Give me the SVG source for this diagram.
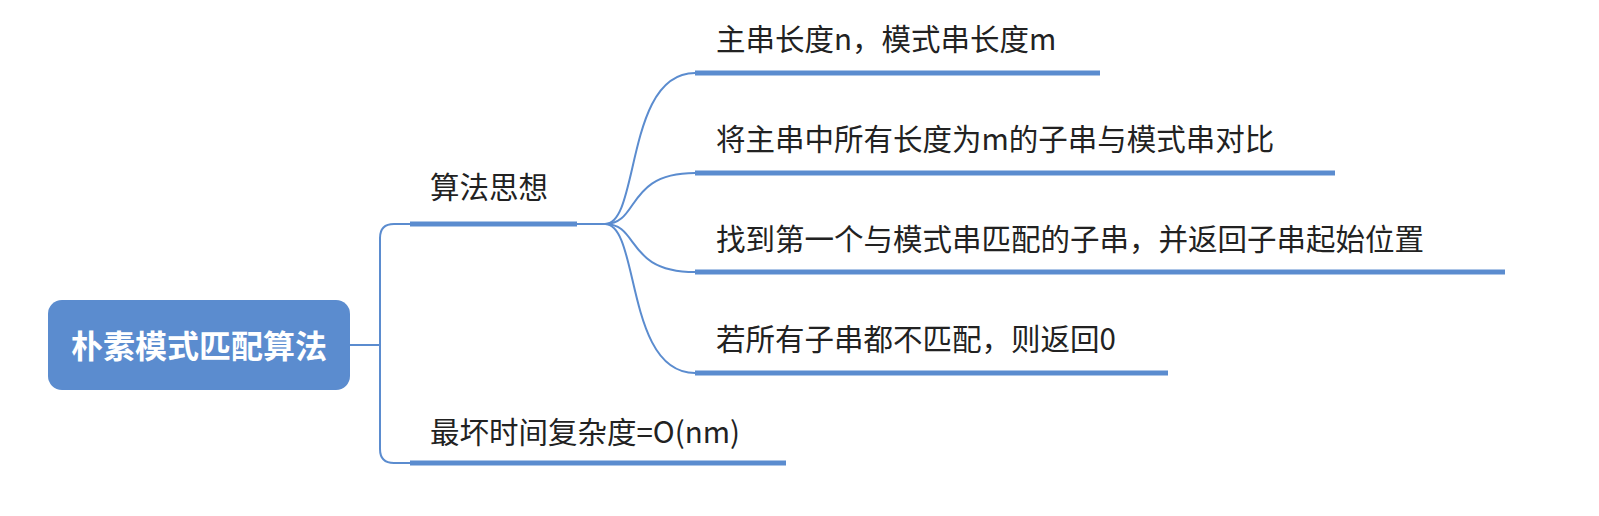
<svg xmlns="http://www.w3.org/2000/svg" width="1599" height="516" viewBox="0 0 1599 516">
<style>
.t{font-family:"Noto Sans CJK SC","Liberation Sans",sans-serif;font-size:29.5px;fill:#222}
.u{stroke:#5b8ccf;stroke-width:5;fill:none}
.c{stroke:#5b8ccf;stroke-width:2;fill:none}
</style>
<rect width="1599" height="516" fill="#fff"/>
<g id="connectors">
<path class="c" d="M350,345 H380 M380,345 V238 Q380,224 394,224 H410 M380,345 V449 Q380,463 394,463 H410"/>
<path class="c" d="M577,224 H605"/>
<path class="c" d="M605,224 C640,224 625,73 695,73"/>
<path class="c" d="M605,224 C640,224 625,173 695,173"/>
<path class="c" d="M605,224 C640,224 625,272 695,272"/>
<path class="c" d="M605,224 C640,224 625,373 695,373"/>
</g>
<g id="root">
<rect x="48" y="300" width="302" height="90" rx="14" fill="#5b8ccf"/>
<text x="199" y="358" text-anchor="middle" font-family="Noto Sans CJK SC,sans-serif" font-size="32" font-weight="bold" fill="#fff">朴素模式匹配算法</text>
</g>
<g id="n1"><path class="u" d="M410,224 H577"/><text class="t" x="430" y="198">算法思想</text></g>
<g id="n2"><path class="u" d="M410,463 H786"/><text class="t" x="430" y="443">最坏时间复杂度=O(nm)</text></g>
<g id="n3"><path class="u" d="M695,73 H1100"/><text class="t" x="716" y="50">主串长度n，模式串长度m</text></g>
<g id="n4"><path class="u" d="M695,173 H1335"/><text class="t" x="716" y="150">将主串中所有长度为m的子串与模式串对比</text></g>
<g id="n5"><path class="u" d="M695,272 H1505"/><text class="t" x="716" y="250">找到第一个与模式串匹配的子串，并返回子串起始位置</text></g>
<g id="n6"><path class="u" d="M695,373 H1168"/><text class="t" x="716" y="350">若所有子串都不匹配，则返回0</text></g>
</svg>
